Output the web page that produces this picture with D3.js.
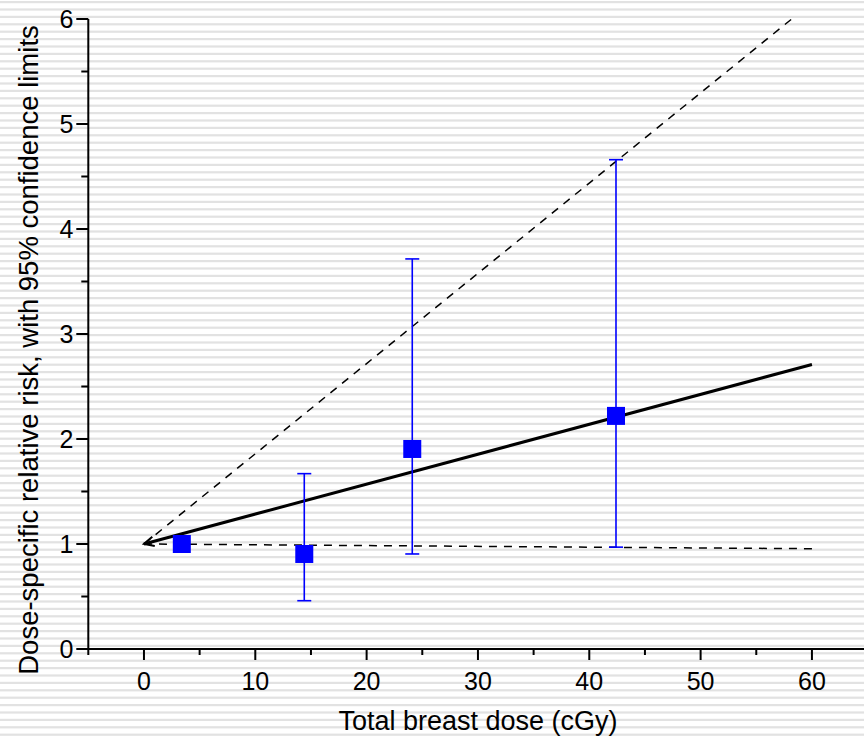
<!DOCTYPE html>
<html><head><meta charset="utf-8">
<script src="https://cdn.jsdelivr.net/npm/d3@7"></script>
<style>body{margin:0;background:#fff}svg{display:block}text{font-family:"Liberation Sans",Arial,sans-serif}</style>
</head><body>
<script>
const doses = [3.4, 14.4, 24.1, 42.4];
const rr = [1.0, 0.905, 1.905, 2.22];
const lower = [null, 0.46, 0.905, 0.97];
const upper = [null, 1.67, 3.715, 4.66];
const fitX = [0, 60];
const fitY = [1.0, 2.71];
const upperFitX = [0, 58.3];
const upperFitY = [1.0, 6.01];
const lowerFitX = [0, 60];
const lowerFitY = [1.0, 0.955];
const xTicks = [0, 10, 20, 30, 40, 50, 60];
const yTicks = [0, 1, 2, 3, 4, 5, 6];

const W = 864, H = 740;
const svg = d3.select("body").append("svg").attr("width", W).attr("height", H);

// striped background
const bg = svg.append("g");
for (let y = 1; y < H; y += 7.4) {
  bg.append("rect").attr("x", 0).attr("y", y).attr("width", W).attr("height", 2.2).attr("fill", "#e2e2e2");
}

const x = d3.scaleLinear().domain([-5, 65]).range([88.3, 867.6]);
const y = d3.scaleLinear().domain([0, 6]).range([649, 19]);

// axes
const xAxis = svg.append("g").attr("transform", `translate(0,${y(0)})`);
xAxis.append("line").attr("x1", x(-5)).attr("x2", W).attr("stroke", "#000").attr("stroke-width", 2);
const xMinor = d3.range(-5, 65, 5);
xAxis.selectAll(".xt").data(xMinor).join("line")
  .attr("x1", d => x(d)).attr("x2", d => x(d)).attr("y1", 0)
  .attr("y2", d => d % 10 === 0 ? 11 : 6).attr("stroke", "#000").attr("stroke-width", 2);
xAxis.selectAll(".xl").data(xTicks).join("text")
  .attr("x", d => x(d)).attr("y", 41).attr("text-anchor", "middle")
  .attr("font-size", 25).text(d => d);

const yAxis = svg.append("g").attr("transform", `translate(${x(-5)},0)`);
yAxis.append("line").attr("y1", y(0) + 1).attr("y2", y(6)).attr("stroke", "#000").attr("stroke-width", 2);
const yMinor = d3.range(0, 6.01, 0.5);
yAxis.selectAll(".yt").data(yMinor).join("line")
  .attr("y1", d => y(d)).attr("y2", d => y(d)).attr("x1", 0)
  .attr("x2", d => Math.abs(d - Math.round(d)) < 1e-6 ? -12 : -7).attr("stroke", "#000").attr("stroke-width", 2);
yAxis.selectAll(".yl").data(yTicks).join("text")
  .attr("x", -15).attr("y", d => y(d) + 9).attr("text-anchor", "end")
  .attr("font-size", 25).text(d => d);

svg.append("text").attr("x", 478).attr("y", 730).attr("text-anchor", "middle")
  .attr("font-size", 27).text("Total breast dose (cGy)");
svg.append("text").attr("transform", `translate(38,350) rotate(-90)`)
  .attr("text-anchor", "middle").attr("font-size", 27.5)
  .text("Dose-specific relative risk, with 95% confidence limits");

// fit lines
const line = d3.line().x(d => x(d[0])).y(d => y(d[1]));
svg.append("path").attr("d", line(d3.zip(upperFitX, upperFitY)))
  .attr("fill", "none").attr("stroke", "#000").attr("stroke-width", 1.5).attr("stroke-dasharray", "8,7");
svg.append("path").attr("d", line(d3.zip(lowerFitX, lowerFitY)))
  .attr("fill", "none").attr("stroke", "#000").attr("stroke-width", 1.5).attr("stroke-dasharray", "8,7");
svg.append("path").attr("d", line(d3.zip(fitX, fitY)))
  .attr("fill", "none").attr("stroke", "#000").attr("stroke-width", 3);

// arrowhead at origin of fit
{
  const x0 = x(fitX[0]), y0 = y(fitY[0]);
  const ang = Math.atan2(y(fitY[1]) - y0, x(fitX[1]) - x0);
  const L = 11, a = 0.45;
  const p1 = [x0 + L * Math.cos(ang - a), y0 + L * Math.sin(ang - a)];
  const p2 = [x0 + L * Math.cos(ang + a), y0 + L * Math.sin(ang + a)];
  svg.append("path").attr("d", `M${p1}L${x0},${y0}L${p2}`)
    .attr("fill", "none").attr("stroke", "#000").attr("stroke-width", 2);
}

// error bars
const pts = doses.map((d, i) => ({d, r: rr[i], lo: lower[i], hi: upper[i]}));
const eb = svg.append("g").attr("stroke", "#0000ff").attr("stroke-width", 1.6);
pts.filter(p => p.lo != null).forEach(p => {
  eb.append("line").attr("x1", x(p.d)).attr("x2", x(p.d)).attr("y1", y(p.lo)).attr("y2", y(p.hi));
  eb.append("line").attr("x1", x(p.d) - 7).attr("x2", x(p.d) + 7).attr("y1", y(p.lo)).attr("y2", y(p.lo));
  eb.append("line").attr("x1", x(p.d) - 7).attr("x2", x(p.d) + 7).attr("y1", y(p.hi)).attr("y2", y(p.hi));
});
svg.selectAll(".pt").data(pts).join("rect")
  .attr("x", p => x(p.d) - 9).attr("y", p => y(p.r) - 9)
  .attr("width", 18).attr("height", 18).attr("fill", "#0000ff");
</script>
</body></html>
